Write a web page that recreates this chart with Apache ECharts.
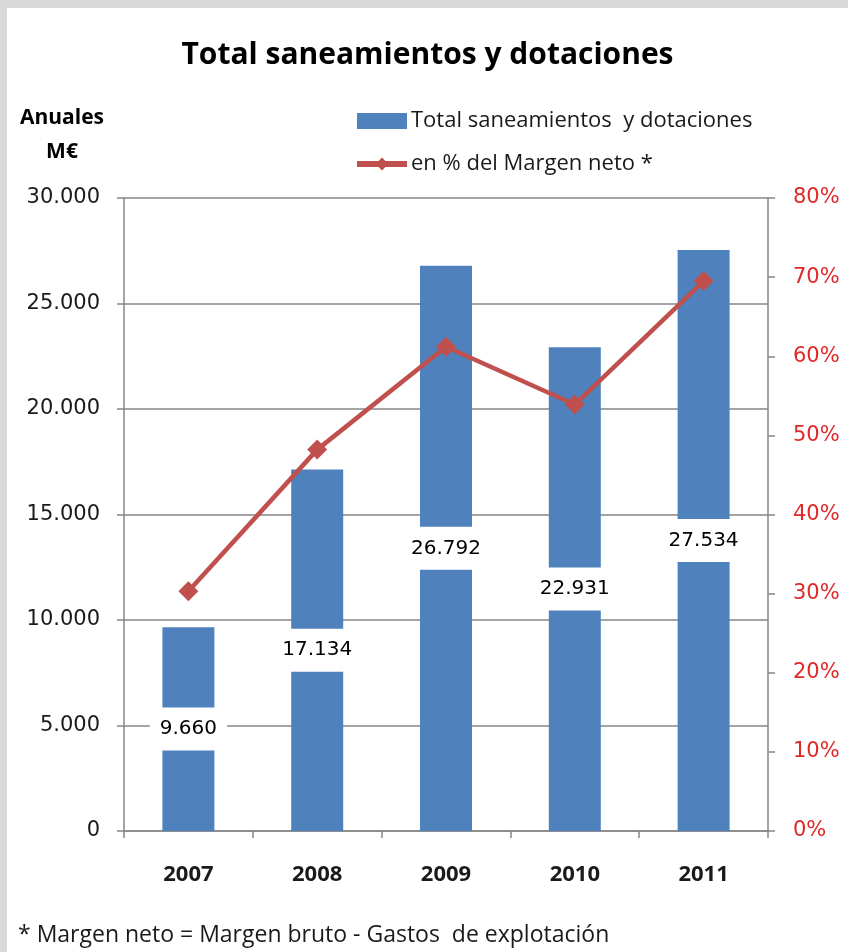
<!DOCTYPE html>
<html>
<head>
<meta charset="utf-8">
<script src="https://cdn.jsdelivr.net/npm/echarts@6/dist/echarts.min.js"></script>
<style>
html,body{margin:0;padding:0;background:#d9d9d9;width:848px;height:952px;overflow:hidden;}
#c{position:absolute;left:7px;top:8px;width:841px;height:944px;background:#ffffff;}
</style>
</head>
<body>
<div id="c"></div>
<script>
const categories = ['2007','2008','2009','2010','2011'];
const totals = [9660, 17134, 26792, 22931, 27534];
const pctMargen = [30.3, 48.2, 61.2, 53.9, 69.5];
const leftTicks = {min: 0, max: 30000, interval: 5000};
const rightTicks = {min: 0, max: 80, interval: 10};

function fmtThousands(v){
  return String(Math.round(v)).replace(/\B(?=(\d{3})+(?!\d))/g, '.');
}

const FONT = 'Open Sans';
const chart = echarts.init(document.getElementById('c'), null, {renderer:'canvas'});
chart.setOption({
  animation: false,
  textStyle: {fontFamily: FONT},
  title: {
    text: 'Total saneamientos y dotaciones',
    left: 'center', top: 27,
    textStyle: {fontFamily: FONT, fontWeight: 'bold', fontSize: 30, color: '#000'}
  },
  legend: {
    orient: 'vertical',
    left: 342, top: 97,
    itemWidth: 50, itemHeight: 16, itemGap: 21,
    textStyle: {fontFamily: FONT, fontSize: 22, color: '#1a1a1a', padding: [0,0,0,-1]},
    data: [
      {name: 'Total saneamientos  y dotaciones', icon: 'rect'},
      {name: 'en % del Margen neto *', lineStyle: {width: 6}}
    ]
  },
  grid: {left: 117, top: 190, width: 644, height: 633, containLabel: false},
  xAxis: {
    type: 'category',
    data: categories,
    axisLine: {lineStyle: {color: '#868686', width: 1.5}},
    axisTick: {show: true, length: 7, lineStyle: {color: '#868686', width: 1.5}},
    axisLabel: {fontFamily: FONT, fontWeight: 'bold', fontSize: 22, color: '#1a1a1a', margin: 33}
  },
  yAxis: [
    {
      type: 'value', min: leftTicks.min, max: leftTicks.max, interval: leftTicks.interval,
      position: 'left',
      axisLine: {show: true, lineStyle: {color: '#868686', width: 1.5}},
      axisTick: {show: true, length: 7, lineStyle: {color: '#868686', width: 1.5}},
      splitLine: {show: true, lineStyle: {color: '#868686', width: 1.5}},
      axisLabel: {fontFamily: 'DejaVu Sans', fontSize: 21, color: '#1a1a1a', margin: 24,
        formatter: v => fmtThousands(v)}
    },
    {
      type: 'value', min: rightTicks.min, max: rightTicks.max, interval: rightTicks.interval,
      position: 'right',
      axisLine: {show: true, lineStyle: {color: '#868686', width: 1.5}},
      axisTick: {show: true, length: 7, lineStyle: {color: '#868686', width: 1.5}},
      splitLine: {show: false},
      axisLabel: {fontFamily: 'DejaVu Sans', fontSize: 21, color: '#e02828', margin: 25,
        formatter: v => v + '%'}
    }
  ],
  graphic: [
    {type: 'text', x: 55, y: 110, style: {text: 'Anuales', fontFamily: FONT, fontWeight: 'bold', fontSize: 21, fill: '#000', align: 'center', verticalAlign: 'middle'}},
    {type: 'text', x: 55, y: 144, style: {text: 'M€', fontFamily: FONT, fontWeight: 'bold', fontSize: 21, fill: '#000', align: 'center', verticalAlign: 'middle'}},
    {type: 'text', x: 11, y: 927, style: {text: '* Margen neto = Margen bruto - Gastos  de explotación', fontFamily: FONT, fontSize: 23, fill: '#1a1a1a', align: 'left', verticalAlign: 'middle'}}
  ],
  series: [
    {
      name: 'Total saneamientos  y dotaciones',
      type: 'bar',
      data: totals,
      barWidth: 52,
      itemStyle: {color: '#4f81bd'},
      z: 2,
      label: {
        show: true, position: 'inside',
        formatter: p => fmtThousands(p.value),
        fontFamily: 'DejaVu Sans', fontSize: 20, color: '#000',
        backgroundColor: '#ffffff', padding: [12, 10, 11, 10]
      }
    },
    {
      name: 'en % del Margen neto *',
      type: 'line',
      yAxisIndex: 1,
      data: pctMargen,
      symbol: 'diamond', symbolSize: 20,
      lineStyle: {color: '#c0504d', width: 4.5},
      itemStyle: {color: '#c0504d'},
      z: 3
    }
  ]
});
</script>
</body>
</html>
